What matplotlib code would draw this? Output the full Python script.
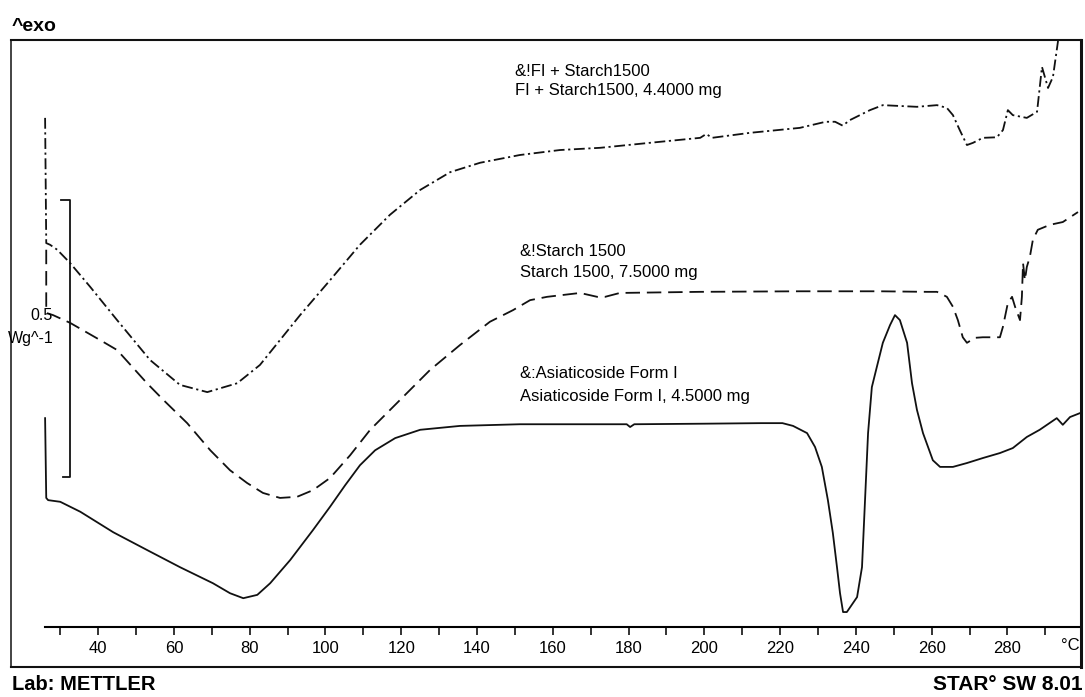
import matplotlib
matplotlib.use("Agg")
import matplotlib.pyplot as plt

plt.rcParams['font.family'] = ['Liberation Sans', 'DejaVu Sans']

# ---- data (temperature in degC, heat flow in W/g, offset curves)
fi_temp = [26.0, 26.3, 27.3, 29.2, 32.6, 37.9, 45.0, 53.7, 61.6, 68.8, 76.7, 82.7, 88.0,
           93.3, 101.2, 109.1, 117.0, 125.0, 132.9, 140.8, 151.3, 161.9, 172.5, 185.6,
           198.9, 200.5, 202.0, 212.0, 225.2, 232.0, 234.5, 236.5, 238.4, 243.7, 247.1,
           256.1, 261.4, 264.0, 265.6, 267.4, 269.3, 270.9, 273.5, 277.2, 278.8, 280.1,
           281.4, 285.1, 287.8, 289.1, 290.7, 292.0, 293.3, 293.7]
fi_flow = [0.919, 0.693, 0.690, 0.681, 0.657, 0.614, 0.554, 0.482, 0.437, 0.424, 0.440,
           0.473, 0.518, 0.563, 0.626, 0.690, 0.744, 0.789, 0.821, 0.838, 0.852, 0.861,
           0.865, 0.874, 0.883, 0.890, 0.883, 0.892, 0.901, 0.912, 0.912, 0.905, 0.915,
           0.933, 0.942, 0.939, 0.942, 0.937, 0.924, 0.897, 0.870, 0.874, 0.883, 0.884,
           0.897, 0.933, 0.924, 0.919, 0.930, 1.011, 0.973, 0.993, 1.056, 1.080]

starch_temp = [26.3, 26.3, 28.1, 32.6, 40.5, 45.0, 52.9, 57.2, 63.5, 69.6, 74.8, 79.3,
               83.5, 88.0, 92.5, 96.7, 101.2, 106.5, 111.8, 119.7, 127.6, 135.5, 143.4,
               149.5, 154.0, 158.5, 167.2, 171.7, 173.8, 177.7, 198.8, 225.2, 246.3,
               258.7, 261.4, 264.0, 265.6, 266.9, 268.2, 269.3, 271.4, 273.5, 278.0,
               278.8, 280.1, 281.2, 282.0, 283.3, 283.8, 284.1, 284.6, 285.1, 285.9,
               286.7, 288.0, 291.2, 294.6, 298.6]
starch_flow = [0.681, 0.567, 0.563, 0.549, 0.518, 0.500, 0.440, 0.410, 0.368, 0.319,
               0.283, 0.260, 0.242, 0.233, 0.235, 0.247, 0.269, 0.310, 0.356, 0.410,
               0.464, 0.509, 0.551, 0.572, 0.590, 0.596, 0.603, 0.596, 0.596, 0.603,
               0.605, 0.606, 0.606, 0.605, 0.605, 0.596, 0.578, 0.554, 0.523, 0.513,
               0.522, 0.523, 0.523, 0.542, 0.585, 0.596, 0.578, 0.554, 0.596, 0.657,
               0.626, 0.650, 0.668, 0.699, 0.717, 0.726, 0.731, 0.749]

asia_temp = [26.0, 26.3, 26.8, 30.0, 35.3, 44.0, 52.9, 61.6, 70.3, 74.8, 78.3, 82.0,
             85.4, 90.7, 96.7, 101.2, 105.2, 109.1, 113.1, 118.4, 125.0, 135.5, 151.3,
             172.5, 179.5, 180.4, 181.5, 200.0, 215.0, 220.6, 223.4, 227.1, 229.2, 231.0,
             232.6, 233.9, 235.0, 235.8, 236.6, 237.6, 240.3, 241.6, 242.4, 243.2, 244.2,
             245.5, 247.1, 249.0, 250.3, 251.6, 253.5, 254.8, 256.1, 257.7, 260.3, 262.2,
             265.6, 269.3, 273.5, 278.0, 281.4, 285.1, 288.5, 293.0, 294.6, 296.5, 299.1]
asia_flow = [0.377, 0.233, 0.229, 0.226, 0.208, 0.171, 0.139, 0.108, 0.079, 0.061, 0.052,
             0.058, 0.079, 0.121, 0.175, 0.217, 0.256, 0.292, 0.319, 0.341, 0.356, 0.363,
             0.366, 0.366, 0.366, 0.361, 0.366, 0.367, 0.368, 0.368, 0.363, 0.350, 0.325,
             0.289, 0.229, 0.170, 0.108, 0.061, 0.027, 0.027, 0.054, 0.108, 0.229, 0.350,
             0.433, 0.469, 0.513, 0.545, 0.563, 0.554, 0.513, 0.440, 0.392, 0.350, 0.301,
             0.289, 0.289, 0.296, 0.305, 0.314, 0.323, 0.343, 0.356, 0.377, 0.365, 0.379,
             0.386]

# scale bar (0.5 W/g)
bar_temp = [30.2, 32.6, 32.6, 30.7]
bar_flow = [0.771, 0.771, 0.271, 0.271]

major_ticks = [40, 60, 80, 100, 120, 140, 160, 180, 200, 220, 240, 260, 280]
minor_ticks = [30, 50, 70, 90, 110, 130, 150, 170, 190, 210, 230, 250, 270, 290]

W, H = 1085, 697
fig = plt.figure(figsize=(W / 100, H / 100), dpi=100)
fig.patch.set_facecolor('white')


def fx(x):
    return x / W


def fy(y):
    return 1 - y / H


ax = fig.add_axes([fx(11), fy(667), (1081 - 11) / W, (667 - 40) / H])
ax.set_xlim(17.0, 299.4)
ax.set_ylim(-0.0722, 1.0596)
ax.set_xticks([])
ax.set_yticks([])
for side, lw in [('left', 1.1), ('top', 1.5), ('right', 2.2), ('bottom', 1.5)]:
    ax.spines[side].set_linewidth(lw)
    ax.spines[side].set_color('#111111')

lw = 1.3
ax.plot(fi_temp, fi_flow, color='#111111', lw=lw, ls=(0, (6.0, 2.0, 1.2, 2.0)))
ax.plot(starch_temp, starch_flow, color='#111111', lw=lw, ls=(0, (8.0, 3.8)))
ax.plot(asia_temp, asia_flow, color='#111111', lw=lw, ls='-')
ax.plot(bar_temp, bar_flow, color='#111111', lw=1.3, ls='-')

# x axis inside the frame
secax = ax.secondary_xaxis((667 - 627) / (667 - 40))
secax.set_xticks(major_ticks)
secax.set_xticks(minor_ticks, minor=True)
secax.tick_params(which='both', direction='out', length=6, width=1.2, color='#111111',
                  labelsize=12, pad=4)
secax.spines['bottom'].set_bounds(26.0, 299.4)
secax.spines['bottom'].set_linewidth(1.5)

# texts
fig.text(fx(1070), fy(645), '°C', fontsize=12, ha='center', va='center')
fig.text(fx(12), fy(31), '^exo', fontsize=14, fontweight='bold', ha='left', va='baseline')
fig.text(fx(12), fy(685), 'Lab: METTLER', fontsize=14.5, fontweight='bold',
         ha='left', va='center')
fig.text(fx(1083), fy(685), 'STAR° SW 8.01', fontsize=15, fontweight='bold',
         ha='right', va='center')
fig.text(fx(53), fy(316), '0.5', fontsize=11.5, ha='right', va='center')
fig.text(fx(54), fy(339), 'Wg^-1', fontsize=11.5, ha='right', va='center')

fs = 12
fig.text(fx(515), fy(71), '&!FI + Starch1500', fontsize=fs, ha='left', va='center')
fig.text(fx(515), fy(91), 'FI + Starch1500, 4.4000 mg', fontsize=fs, ha='left', va='center')
fig.text(fx(520), fy(252), '&!Starch 1500', fontsize=fs, ha='left', va='center')
fig.text(fx(520), fy(273), 'Starch 1500, 7.5000 mg', fontsize=fs, ha='left', va='center')
fig.text(fx(520), fy(374), '&:Asiaticoside Form I', fontsize=fs, ha='left', va='center')
fig.text(fx(520), fy(396), 'Asiaticoside Form I, 4.5000 mg', fontsize=fs, ha='left',
         va='center')

fig.savefig('out.png', dpi=100, facecolor='white')
